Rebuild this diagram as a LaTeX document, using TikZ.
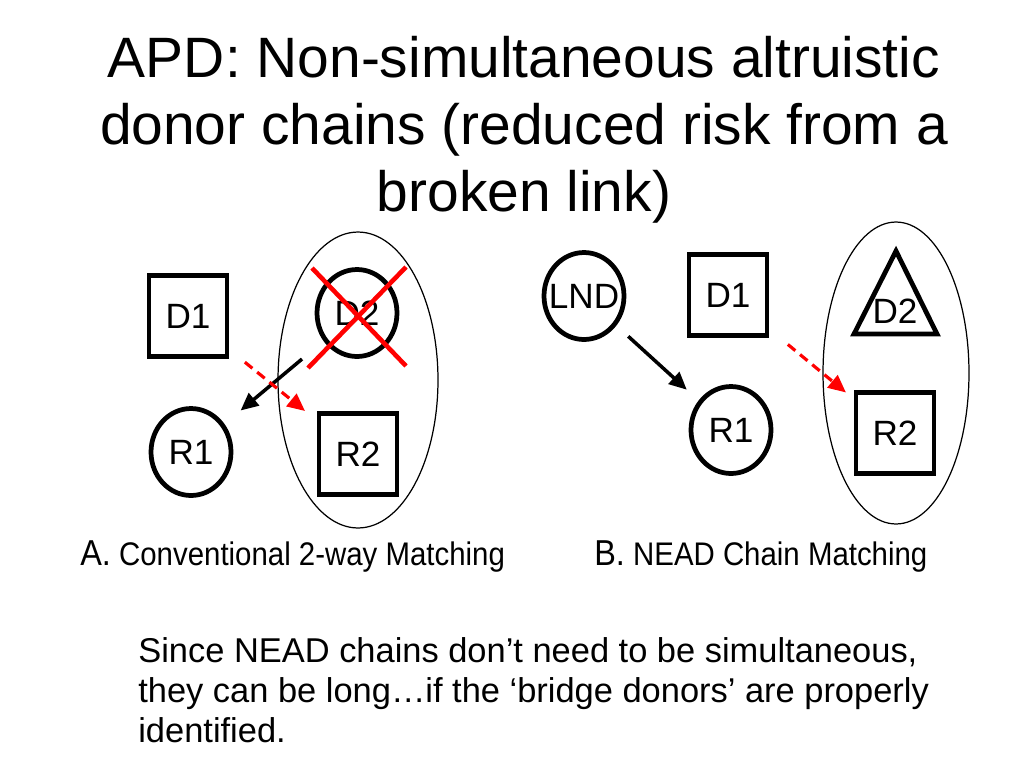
\documentclass[tikz,border=0pt]{standalone}
\usepackage{fontspec}
\setmainfont{Liberation Sans}
\newfontfamily\narrowsans[FakeStretch=0.9]{Liberation Sans}
\usetikzlibrary{arrows.meta,shapes.geometric}

\begin{document}
\begin{tikzpicture}[
  x=0.02cm,
  y=-0.02cm,
  labelfont/.style={font=\fontsize{20}{22}\selectfont},
  boxnode/.style={
    labelfont, draw, line width=2.7pt, inner sep=0pt,
    minimum width=1.56cm, minimum height=1.62cm
  },
  ringnode/.style={
    labelfont, ellipse, draw, line width=2.7pt, inner sep=0pt,
    minimum width=1.6cm, minimum height=1.74cm
  },
  groupring/.style={draw, line width=0.7pt},
  chainarrow/.style={
    line width=2pt,
    -{Triangle[length=10pt,width=9pt]}
  },
  brokenarrow/.style={
    red, line width=1.8pt, dash pattern=on 5.5pt off 3.5pt,
    -{Triangle[length=10pt,width=9pt]}
  },
  crossline/.style={red, line width=2.6pt},
  titletext/.style={font=\fontsize{32.4}{38}\selectfont, align=center, inner sep=0pt},
  captiontext/.style={font=\narrowsans\fontsize{18.6}{21}\selectfont, inner sep=0pt},
  bodytext/.style={font=\fontsize{19.6}{22.8}\selectfont, align=left, inner sep=0pt}
]

% Canvas, 4:3
\path[use as bounding box] (0,0) rectangle (1024,768);

% Title
\node[titletext, anchor=north] (title) at (524,36)
  {APD: Non-simultaneous altruistic\\ donor chains (reduced risk from a\\ broken link)};

% A. conventional 2-way matching
\draw[groupring] (358,380) ellipse [x radius=1.6cm, y radius=2.96cm];

\node[boxnode] (a-d1) at (188,316) {D1};
\node[ringnode] (a-d2) at (357,313) {D2};
\node[ringnode] (a-r1) at (191,452) {R1};
\node[boxnode] (a-r2) at (358,454) {R2};

\draw[crossline] ([shift={(-45,-45)}]a-d2.center) -- ([shift={(49,53)}]a-d2.center);
\draw[crossline] ([shift={(49,-46)}]a-d2.center) -- ([shift={(-49,55)}]a-d2.center);

\draw[chainarrow, shorten <=0.56cm, shorten >=0.42cm] (a-d2) -- (a-r1);
\draw[brokenarrow, shorten <=0.4cm, shorten >=0.3cm] (a-d1) -- (a-r2);

\node[captiontext, anchor=base west] (a-cap) at (80,565)
  {{\fontsize{20.5}{24}\selectfont A.} Conventional 2-way Matching};

% B. NEAD chain matching
\draw[groupring] (896,373) ellipse [x radius=1.46cm, y radius=3.02cm];

\node[ringnode] (b-lnd) at (584,296) {\makebox[0pt]{LND}};
\node[boxnode] (b-d1) at (728,295) {D1};
\node[ringnode] (b-r1) at (731,430) {R1};
\node[boxnode] (b-r2) at (895,433) {R2};

\draw[line width=2.7pt] (896,251) -- (937,334) -- (854,334) -- cycle;
\node[labelfont, inner sep=0pt] (b-d2) at (895,311) {D2};

\draw[chainarrow, shorten <=0.32cm, shorten >=0.32cm] (b-lnd) -- (b-r1);
\draw[brokenarrow, shorten <=0.48cm, shorten >=0.2cm] (b-d1) -- (b-r2);

\node[captiontext, anchor=base west] (b-cap) at (594,565)
  {{\fontsize{20.5}{24}\selectfont B.} NEAD Chain Matching};

% Bottom note
\node[bodytext, anchor=north west] (note) at (138,637)
  {Since NEAD chains don’t need to be simultaneous,\\
   they can be long…if the ‘bridge donors’ are properly\\
   identified.};

\end{tikzpicture}
\end{document}
